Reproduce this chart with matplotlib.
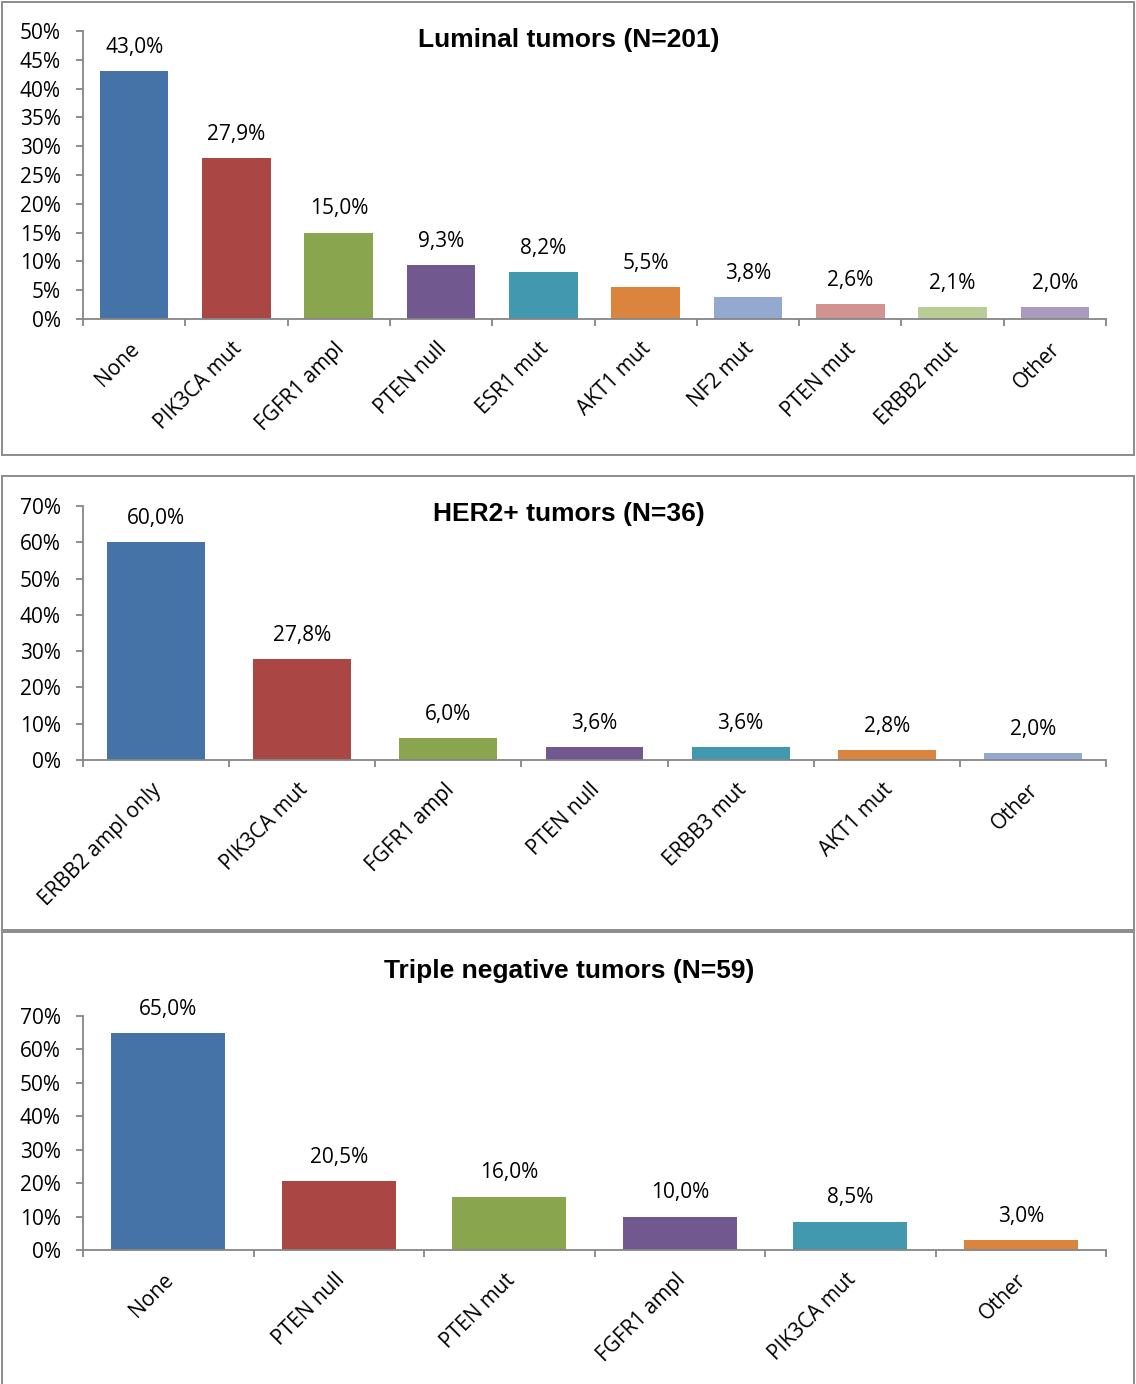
import matplotlib
matplotlib.use("Agg")
import matplotlib.pyplot as plt
from matplotlib.patches import Rectangle
from matplotlib.ticker import PercentFormatter, FixedLocator, MultipleLocator
from matplotlib.transforms import ScaledTranslation

# Alteration frequencies (%) per breast cancer subtype
luminal_labels = ["None", "PIK3CA mut", "FGFR1 ampl", "PTEN null", "ESR1 mut",
                  "AKT1 mut", "NF2 mut", "PTEN mut", "ERBB2 mut", "Other"]
luminal_values = [43.0, 27.9, 15.0, 9.3, 8.2, 5.5, 3.8, 2.6, 2.1, 2.0]

her2_labels = ["ERBB2 ampl only", "PIK3CA mut", "FGFR1 ampl", "PTEN null",
               "ERBB3 mut", "AKT1 mut", "Other"]
her2_values = [60.0, 27.8, 6.0, 3.6, 3.6, 2.8, 2.0]

tn_labels = ["None", "PTEN null", "PTEN mut", "FGFR1 ampl", "PIK3CA mut", "Other"]
tn_values = [65.0, 20.5, 16.0, 10.0, 8.5, 3.0]

titles = ["Luminal tumors (N=201)", "HER2+ tumors (N=36)",
          "Triple negative tumors (N=59)"]

palette = ["#4572A7", "#AA4643", "#89A54E", "#71588F", "#4198AF",
           "#DB843D", "#93A9CF", "#D19392", "#B9CD96", "#A99BBD"]

W, H = 1136, 1384
DPI = 100
fig = plt.figure(figsize=(W / DPI, H / DPI), dpi=DPI)
fig.patch.set_facecolor("white")

BODY = "Open Sans"
BODY_SIZE = 15
TITLE = "Liberation Sans"
AXIS_GREY = "#868686"


def fx(px):
    return px / W


def fy(py):
    return 1 - py / H


# panel frames (pixel boxes: left, top, right, bottom)
frames = [(2, 2, 1134, 455), (2, 476, 1134, 930), (2, 932, 1134, 1392)]
for (l, t, r, b) in frames:
    fig.patches.append(Rectangle((fx(l), fy(b)), fx(r - l), (b - t) / H,
                                 transform=fig.transFigure, fill=False,
                                 edgecolor="#8c8c8c", linewidth=1.4))

# axes boxes: left, top(max value), right, baseline
panels = [
    (luminal_labels, luminal_values, 50, 5, (83, 31, 1106, 319), 40),
    (her2_labels, her2_values, 70, 10, (83, 506, 1106, 760), 514),
    (tn_labels, tn_values, 70, 10, (83, 1016, 1106, 1250), 971),
]

for i, (labels, values, ymax, ystep, box, title_y) in enumerate(panels):
    l, t, r, b = box
    ax = fig.add_axes([fx(l), fy(b), fx(r - l), (b - t) / H])
    n = len(values)
    xs = list(range(n))
    ax.bar(xs, values, width=0.67, color=palette[:n], zorder=2)
    ax.set_xlim(-0.5, n - 0.5)
    ax.set_ylim(0, ymax)

    for s in ("top", "right"):
        ax.spines[s].set_visible(False)
    for s in ("left", "bottom"):
        ax.spines[s].set_color(AXIS_GREY)
        ax.spines[s].set_linewidth(1.3)

    ax.yaxis.set_major_locator(MultipleLocator(ystep))
    ax.yaxis.set_major_formatter(PercentFormatter(decimals=0))
    ax.tick_params(axis="y", direction="out", length=5, width=1.3,
                   color=AXIS_GREY, pad=11, labelsize=BODY_SIZE)
    for lab in ax.get_yticklabels():
        lab.set_fontfamily(BODY)

    # category boundaries as minor ticks, labels at category centres
    ax.xaxis.set_minor_locator(FixedLocator([k - 0.5 for k in range(n + 1)]))
    ax.set_xticks(xs)
    ax.set_xticklabels(labels, rotation=45, ha="right", va="top",
                       rotation_mode="anchor", fontfamily=BODY,
                       fontsize=BODY_SIZE)
    ax.tick_params(axis="x", which="major", length=0, pad=14)
    ax.tick_params(axis="x", which="minor", direction="out", length=5,
                   width=1.3, color=AXIS_GREY)
    shift = ScaledTranslation(-5 / DPI, 0, fig.dpi_scale_trans)
    for lab in ax.get_xticklabels():
        lab.set_transform(lab.get_transform() + shift)

    for x, v in zip(xs, values):
        ax.annotate(f"{v:.1f}".replace(".", ",") + "%", (x, v),
                    xytext=(0, 17), textcoords="offset points",
                    ha="center", va="center", fontfamily=BODY,
                    fontsize=BODY_SIZE, color="black")

    fig.text(fx(569), fy(title_y), titles[i], ha="center", va="center",
             fontfamily=TITLE, fontweight="bold", fontsize=19)

fig.savefig("out.png", dpi=DPI, facecolor="white")
